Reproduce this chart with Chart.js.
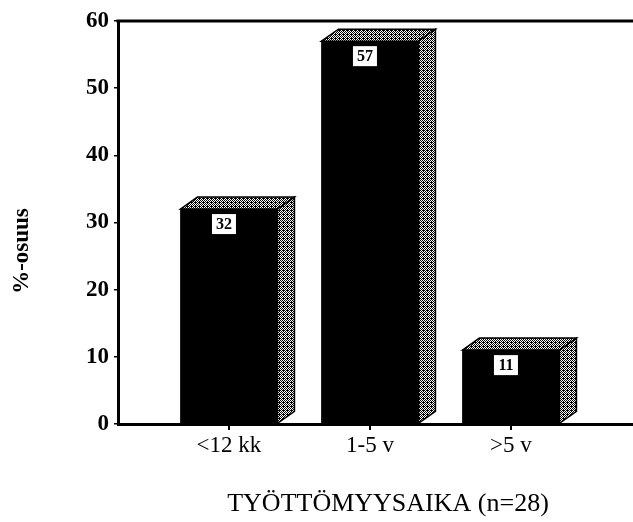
<!DOCTYPE html>
<html>
<head>
<meta charset="utf-8">
<script src="https://cdn.jsdelivr.net/npm/chart.js@4/dist/chart.umd.min.js"></script>
<style>
  html, body { margin: 0; padding: 0; overflow: hidden; background: #fff; }
  #wrap { width: 658px; height: 522px; }
</style>
</head>
<body>
<div id="wrap"><canvas id="c" width="658" height="522"></canvas></div>
<script>
// Unemployment duration groups and their share (%)
const categories = ['<12 kk', '1-5 v', '>5 v'];
const shares = [32, 57, 11];
const yTicks = [0, 10, 20, 30, 40, 50, 60];
const xTitle = 'TYÖTTÖMYYSAIKA (n=28)';
const yTitle = '%-osuus';

const SERIF = '"Liberation Serif", "Times New Roman", serif';

// Stippled grey fill for the side and top faces of the bars
function makeStipple() {
  const c = document.createElement('canvas');
  c.width = 4; c.height = 4;
  const g = c.getContext('2d');
  g.fillStyle = '#fff';
  g.fillRect(0, 0, 4, 4);
  g.fillStyle = '#000';
  [[0,0],[2,0],[1,1],[3,1],[0,2],[2,2],[3,2],[1,3],[3,3]].forEach(([x, y]) => g.fillRect(x, y, 1, 1));
  return g.createPattern(c, 'repeat');
}

const depthX = 17, depthY = 12;

const bars3d = {
  id: 'bars3d',
  afterDatasetsDraw(chart) {
    const ctx = chart.ctx;
    const pattern = makeStipple();
    const meta = chart.getDatasetMeta(0);
    meta.data.forEach((bar, i) => {
      const { x, y, base, width } = bar.getProps(['x', 'y', 'base', 'width'], true);
      const l = x - width / 2, r = x + width / 2;
      ctx.save();
      ctx.fillStyle = pattern;
      ctx.strokeStyle = '#000';
      ctx.lineWidth = 1.5;
      // top face
      ctx.beginPath();
      ctx.moveTo(l, y);
      ctx.lineTo(l + depthX, y - depthY);
      ctx.lineTo(r + depthX, y - depthY);
      ctx.lineTo(r, y);
      ctx.closePath();
      ctx.fill(); ctx.stroke();
      // side face
      ctx.beginPath();
      ctx.moveTo(r, y);
      ctx.lineTo(r + depthX, y - depthY);
      ctx.lineTo(r + depthX, base - depthY);
      ctx.lineTo(r, base);
      ctx.closePath();
      ctx.fill(); ctx.stroke();
      // value label in a white box
      const v = chart.data.datasets[0].data[i].y;
      const bw = 24, bh = 20, cx = x - 5, top = y + 5;
      ctx.fillStyle = '#fff';
      ctx.fillRect(cx - bw / 2, top, bw, bh);
      ctx.fillStyle = '#000';
      ctx.font = 'bold 16px ' + SERIF;
      ctx.textAlign = 'center';
      ctx.textBaseline = 'middle';
      ctx.fillText(String(v), cx, top + bh / 2 + 1);
      ctx.restore();
    });
  }
};

const frame = {
  id: 'frame',
  afterDraw(chart) {
    const { ctx, chartArea } = chart;
    ctx.save();
    // top border line
    ctx.strokeStyle = '#000';
    ctx.lineWidth = 3;
    ctx.beginPath();
    ctx.moveTo(chartArea.left - 1.5, chartArea.top);
    ctx.lineTo(chartArea.right, chartArea.top);
    ctx.stroke();
    // y axis title, reading bottom to top
    ctx.translate(22, 251);
    ctx.rotate(-Math.PI / 2);
    ctx.font = 'bold 23px ' + SERIF;
    ctx.fillStyle = '#000';
    ctx.textAlign = 'center';
    ctx.textBaseline = 'middle';
    ctx.fillText(yTitle, 0, 0);
    ctx.restore();
  }
};

new Chart(document.getElementById('c'), {
  type: 'bar',
  data: {
    datasets: [{
      data: shares.map((v, i) => ({ x: i + 1, y: v })),
      backgroundColor: '#000',
      borderWidth: 0,
      barThickness: 97
    }]
  },
  options: {
    responsive: false,
    animation: false,
    devicePixelRatio: 1,
    layout: { padding: { top: 21, left: 0, right: 0, bottom: 0 } },
    plugins: { legend: { display: false }, tooltip: { enabled: false } },
    scales: {
      x: {
        type: 'linear',
        offset: false,
        min: 0.213,
        max: 4.043,
        afterBuildTicks: (s) => { s.ticks = categories.map((_, i) => ({ value: i + 1 })); },
        afterFit: (s) => { s.height = 98; },
        ticks: {
          callback: (v) => categories[v - 1],
          font: { family: SERIF, size: 23 },
          color: '#000',
          padding: 2,
          maxRotation: 0
        },
        grid: { offset: false, drawOnChartArea: false, drawTicks: true, tickLength: 6, color: '#000', lineWidth: 2 },
        border: { color: '#000', width: 3 },
        title: {
          display: true,
          text: xTitle,
          font: { family: SERIF, size: 26 },
          color: '#000',
          padding: { top: 0, bottom: 2 }
        }
      },
      y: {
        min: 0,
        max: 60,
        afterBuildTicks: (s) => { s.ticks = yTicks.map(v => ({ value: v })); },
        afterFit: (s) => { s.width = 118; },
        ticks: {
          font: { family: SERIF, size: 23, weight: 'bold' },
          color: '#000',
          padding: 5
        },
        grid: { drawOnChartArea: false, drawTicks: true, tickLength: 4, color: '#000', lineWidth: 1.5 },
        border: { color: '#000', width: 3 }
      }
    }
  },
  plugins: [bars3d, frame]
});
</script>
</body>
</html>
